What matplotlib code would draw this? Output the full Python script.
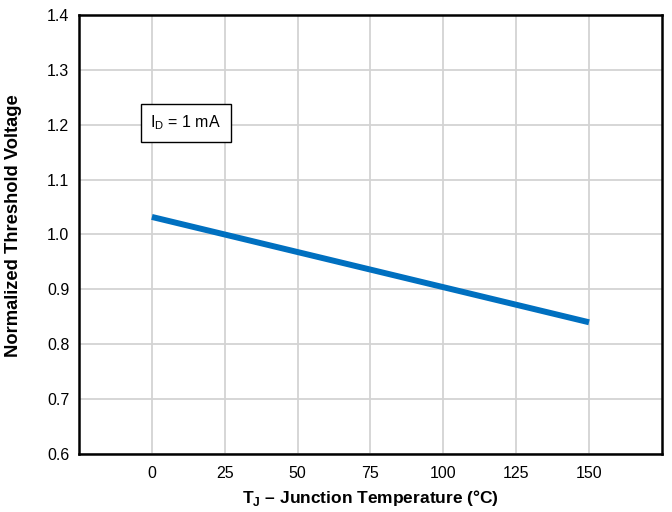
import matplotlib
matplotlib.use("Agg")
import matplotlib.pyplot as plt

plt.rcParams['font.family'] = ['Liberation Sans', 'DejaVu Sans']
plt.rcParams['mathtext.fontset'] = 'custom'
plt.rcParams['mathtext.rm'] = 'Liberation Sans'
plt.rcParams['mathtext.bf'] = 'Liberation Sans:bold'

temps = [0, 150]
vth = [1.032, 0.840]
xticks = [0, 25, 50, 75, 100, 125, 150]
yticks = [0.6, 0.7, 0.8, 0.9, 1.0, 1.1, 1.2, 1.3, 1.4]

fig = plt.figure(figsize=(6.72, 5.12), dpi=100)
ax = fig.add_axes([0.1176, 0.1133, 0.8674, 0.8574])
ax.plot(temps, vth, color="#0070C0", lw=4.3, solid_capstyle="butt", zorder=3)
ax.set_xlim(-25, 175)
ax.set_ylim(0.6, 1.4)
ax.set_xticks(xticks)
ax.set_yticks(yticks)
ax.set_xticklabels([str(t) for t in xticks])
ax.set_yticklabels([f"{v:.1f}" for v in yticks])
ax.grid(True, color="#d3d3d3", lw=1.3)
ax.set_axisbelow(True)
ax.tick_params(length=0, labelsize=11.5)
ax.tick_params(axis='x', pad=9)
ax.tick_params(axis='y', pad=7)
for s in ax.spines.values():
    s.set_linewidth(1.8)
    s.set_color("black")
ax.set_xlabel(r"T$_\mathbf{J}$ – Junction Temperature (°C)", fontsize=12.5, fontweight="bold", labelpad=5)
ax.set_ylabel("Normalized Threshold Voltage", fontsize=13.2, fontweight="bold")
ax.yaxis.set_label_coords(-0.098, 0.52)
ax.text(11.6, 1.203, r"I$_\mathrm{D}$ = 1 mA", fontsize=11.5, ha="center", va="center",
        bbox=dict(boxstyle="square,pad=0.6", fc="white", ec="black", lw=1.0), zorder=4)
fig.savefig("out.png", dpi=100)
